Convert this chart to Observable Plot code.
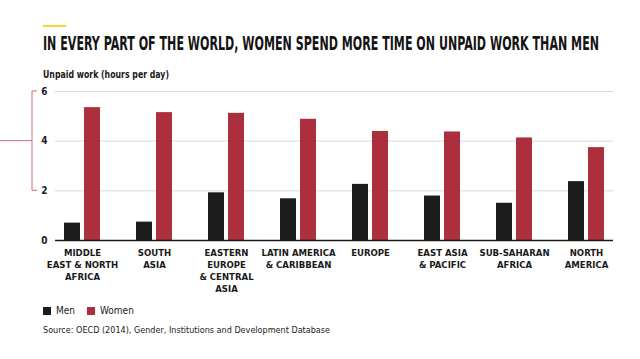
<!DOCTYPE html>
<html>
<head>
<meta charset="utf-8">
<script src="https://cdn.jsdelivr.net/npm/d3@7"></script>
<script src="https://cdn.jsdelivr.net/npm/@observablehq/plot@0.6"></script>
<style>
  html, body { margin: 0; padding: 0; background: #fff; }
  body { width: 640px; height: 359px; position: relative; overflow: hidden;
         font-family: "Liberation Sans Narrow", "DejaVu Sans Condensed", sans-serif; color: #1a1a1a; }
  .abs { position: absolute; white-space: nowrap; }
  #accent { left: 43px; top: 25px; width: 23px; height: 2px; background: #f5dc2a; }
  #title { left: 43px; top: 34px; font-size: 19px; line-height: 19px; font-weight: bold;
           font-family: "DejaVu Sans Condensed", sans-serif; transform-origin: 0 0; color: #141414; }
  #subtitle { left: 43px; top: 70px; font-size: 10px; line-height: 10px; font-weight: bold; transform-origin: 0 0; }
  #chart { left: 0; top: 80px; }
  #legend { left: 43px; top: 306px; font-size: 10px; line-height: 10px; display: flex; align-items: center; }
  .sw { display: inline-block; width: 8px; height: 8px; margin-right: 5px; }
  #source { left: 43px; top: 325px; font-size: 9.5px; line-height: 10px; transform-origin: 0 0; color: #222; }
</style>
</head>
<body>
<div id="accent" class="abs"></div>
<div id="title" class="abs">IN EVERY PART OF THE WORLD, WOMEN SPEND MORE TIME ON UNPAID WORK THAN MEN</div>
<div id="subtitle" class="abs">Unpaid work (hours per day)</div>
<div id="chart" class="abs"></div>
<div id="legend" class="abs"></div>
<div id="source" class="abs">Source: OECD (2014), Gender, Institutions and Development Database</div>
<script>
const regions = [
  "MIDDLE\nEAST & NORTH\nAFRICA",
  "SOUTH\nASIA",
  "EASTERN\nEUROPE\n& CENTRAL\nASIA",
  "LATIN AMERICA\n& CARIBBEAN",
  "EUROPE",
  "EAST ASIA\n& PACIFIC",
  "SUB-SAHARAN\nAFRICA",
  "NORTH\nAMERICA"
];
const men   = [0.70, 0.74, 1.92, 1.68, 2.26, 1.79, 1.50, 2.37];
const women = [5.35, 5.15, 5.12, 4.88, 4.39, 4.37, 4.13, 3.74];
const yTicks = [0, 2, 4, 6];
const seriesNames = ["Men", "Women"];
const seriesColors = ["#1c1c1c", "#ad2f3d"];

const menRows = regions.map((r, i) => ({region: r, value: men[i]}));
const womenRows = regions.map((r, i) => ({region: r, value: women[i]}));

const bracket = (index, scales) => {
  const y = scales.y;
  const p = d3.create("svg:path")
    .attr("fill", "none")
    .attr("stroke", "#c9707a")
    .attr("stroke-width", 1)
    .attr("d", `M0,${y(4)}H32M37,${y(6)}H32V${y(2)}H37`);
  return p.node();
};

const plot = Plot.plot({
  width: 640,
  height: 220,
  marginTop: 11,
  marginBottom: 60,
  marginLeft: 55,
  marginRight: 27,
  style: {fontFamily: '"Liberation Sans Narrow", "DejaVu Sans Condensed", sans-serif', fontSize: "9.5px", color: "#1a1a1a", background: "transparent", overflow: "visible"},
  x: {domain: regions, paddingInner: 0.504, paddingOuter: 0.0965, label: null},
  y: {domain: [0, 6], label: null},
  marks: [
    Plot.gridY(yTicks.filter(d => d > 0), {stroke: "#d8d8d8", strokeOpacity: 1}),
    Plot.barY(menRows, {x: "region", y: "value", fill: seriesColors[0], insetRight: 20}),
    Plot.barY(womenRows, {x: "region", y: "value", fill: seriesColors[1], insetLeft: 20}),
    Plot.ruleY([0], {stroke: "#1a1a1a", strokeWidth: 1.5}),
    Plot.axisY(yTicks, {tickSize: 0, tickPadding: 8, fontWeight: "bold", fontSize: 10, label: null}),
    Plot.axisX({tickSize: 0, tickPadding: 7, lineHeight: 1.26, fontWeight: "bold", label: null}),
    bracket
  ]
});
document.getElementById("chart").appendChild(plot);

const legend = document.getElementById("legend");
seriesNames.forEach((name, i) => {
  const item = document.createElement("span");
  item.style.display = "inline-flex";
  item.style.alignItems = "center";
  item.style.marginRight = i === 0 ? "12px" : "0";
  item.innerHTML = `<span class="sw" style="background:${seriesColors[i]}"></span>${name}`;
  legend.appendChild(item);
});

function fitWidth(id, target) {
  const el = document.getElementById(id);
  const w = el.getBoundingClientRect().width;
  el.style.transform = `scaleX(${target / w})`;
}
fitWidth("title", 556);
fitWidth("subtitle", 126);
fitWidth("source", 287);
</script>
</body>
</html>
